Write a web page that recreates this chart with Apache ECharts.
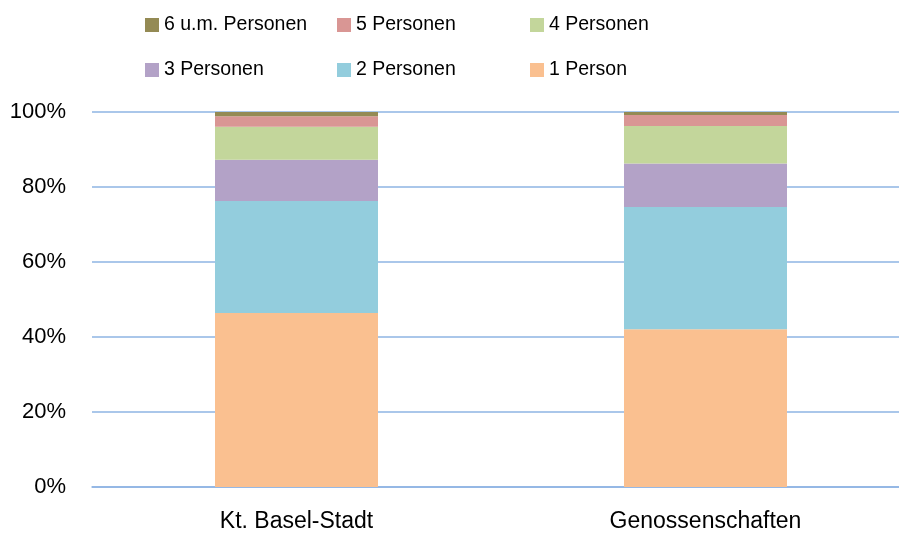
<!DOCTYPE html>
<html>
<head>
<meta charset="utf-8">
<script src="https://cdn.jsdelivr.net/npm/echarts@6/dist/echarts.min.js"></script>
<style>
  html, body { margin: 0; padding: 0; background: #fff; }
  #chart { width: 899px; height: 533px; }
</style>
</head>
<body>
<div id="chart"></div>
<script>
const categories = ['Kt. Basel-Stadt', 'Genossenschaften'];
const seriesNames = ['1 Person', '2 Personen', '3 Personen', '4 Personen', '5 Personen', '6 u.m. Personen'];
const person1 = [46.4, 42.1];
const person2 = [29.9, 32.6];
const person3 = [11.0, 11.6];
const person4 = [8.8, 10.0];
const person5 = [2.8, 2.9];
const person6 = [1.1, 0.8];
const colors = ['#FAC090', '#93CDDD', '#B3A2C7', '#C3D69B', '#D99694', '#948A54'];
const values = [person1, person2, person3, person4, person5, person6];
// legend order as in the picture: two rows of three
const legendOrder = ['6 u.m. Personen', '5 Personen', '4 Personen', '3 Personen', '2 Personen', '1 Person'];

const chart = echarts.init(document.getElementById('chart'));

const series = seriesNames.map((name, i) => ({
  name: name,
  type: 'bar',
  stack: 'total',
  barWidth: 163,
  data: values[i],
  itemStyle: { color: colors[i] },
  emphasis: { disabled: true }
}));

// one legend per item so the columns line up
const colLeft = [145, 337, 530];
const rowTop = [15, 60];
const legends = legendOrder.map((name, i) => ({
  data: [name],
  left: colLeft[i % 3],
  top: rowTop[Math.floor(i / 3)],
  padding: 0,
  itemWidth: 14, itemHeight: 14,
  itemGap: 0,
  icon: 'rect',
  textStyle: { fontFamily: 'Liberation Sans, Arial, sans-serif', fontSize: 19.5, color: '#000' }
}));

const option = {
  animation: false,
  textStyle: { fontFamily: 'Liberation Sans, Arial, sans-serif' },
  legend: legends,
  grid: { left: 92, top: 112, width: 818, height: 375, outerBoundsMode: 'none' },
  xAxis: {
    type: 'category',
    data: categories,
    axisLine: { lineStyle: { color: '#8EB4E3', width: 1.5 } },
    axisTick: { show: false },
    axisLabel: { color: '#000', fontSize: 23, margin: 23 }
  },
  yAxis: {
    type: 'value',
    min: 0, max: 100, interval: 20,
    axisLine: { show: false },
    axisTick: { show: false },
    axisLabel: { color: '#000', fontSize: 22, margin: 26, formatter: '{value}%' },
    splitLine: { lineStyle: { color: '#8EB4E3', width: 1.5 } }
  },
  series: series
};

chart.setOption(option);
</script>
</body>
</html>
